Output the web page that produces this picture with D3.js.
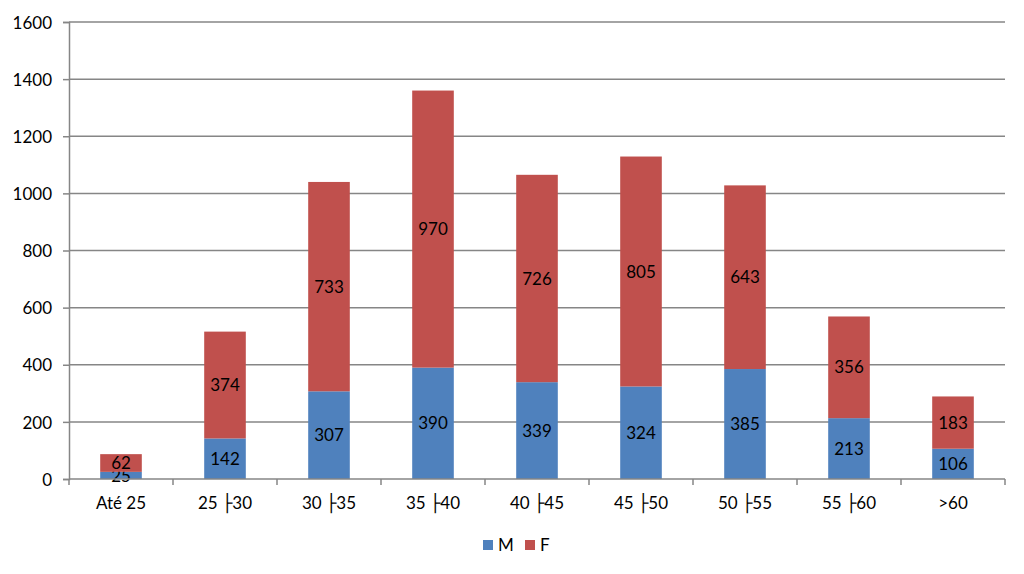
<!DOCTYPE html>
<html>
<head>
<meta charset="utf-8">
<script src="https://cdn.jsdelivr.net/npm/d3@7"></script>
<style>
  body { margin: 0; background: #fff; }
  svg text { font-family: Lato, "DejaVu Sans", sans-serif; fill: #000; }
</style>
</head>
<body>
<div id="chart"></div>
<script>
// data
let categories = ["Até 25", "25 ├30", "30 ├35", "35 ├40", "40 ├45", "45 ├50", "50 ├55", "55 ├60", ">60"]
let valuesM = [25, 142, 307, 390, 339, 324, 385, 213, 106]
let valuesF = [62, 374, 733, 970, 726, 805, 643, 356, 183]
let seriesNames = ["M", "F"]
let seriesColors = ["#4F81BD", "#C0504D"]
let yTicks = [0, 200, 400, 600, 800, 1000, 1200, 1400, 1600]

let W = 1024, H = 574
let margin = {left: 69, right: 19, top: 22, bottom: 95}
let width = W - margin.left - margin.right,
    height = H - margin.top - margin.bottom

let svg = d3.select("#chart").append("svg")
    .attr("width", W)
    .attr("height", H)

let g = svg.append("g")
    .attr("transform", `translate(${margin.left}, ${margin.top})`)

let x = d3.scaleBand()
    .domain(categories)
    .range([0, width])
    .paddingInner(0.6)
    .paddingOuter(0.3)

let y = d3.scaleLinear()
    .domain([0, 1600])
    .range([height, 0])

let gridColor = "#868686"

// gridlines + y ticks
let yAxis = g.append("g")
    .call(d3.axisLeft(y).tickValues(yTicks).tickSize(6).tickPadding(11).tickFormat(d3.format("d")))
yAxis.select(".domain").attr("stroke", gridColor).attr("stroke-width", 1.5)
yAxis.selectAll(".tick line").attr("stroke", gridColor).attr("stroke-width", 1.5)
yAxis.selectAll(".tick text").attr("font-size", "17px").attr("dy", "0.36em")

g.append("g").selectAll("line.grid")
    .data(yTicks.filter(d => d > 0))
    .enter().append("line")
    .attr("x1", 0).attr("x2", width)
    .attr("y1", d => y(d)).attr("y2", d => y(d))
    .attr("stroke", gridColor).attr("stroke-width", 1.5)

// stacked bars
let rows = categories.map((c, i) => ({cat: c, M: valuesM[i], F: valuesF[i]}))
let stack = d3.stack().keys(seriesNames)(rows)

let layers = g.selectAll("g.layer")
    .data(stack)
    .enter().append("g")
    .attr("fill", (d, i) => seriesColors[i])

layers.selectAll("rect")
    .data(d => d)
    .enter().append("rect")
    .attr("x", d => x(d.data.cat))
    .attr("width", x.bandwidth())
    .attr("y", d => y(d[1]))
    .attr("height", d => y(d[0]) - y(d[1]))

layers.selectAll("text")
    .data(d => d)
    .enter().append("text")
    .attr("x", d => x(d.data.cat) + x.bandwidth() / 2)
    .attr("y", d => (y(d[0]) + y(d[1])) / 2)
    .attr("dy", "0.36em")
    .attr("text-anchor", "middle")
    .attr("font-size", "17px")
    .text(d => d[1] - d[0])

// x axis with ticks on band boundaries
let xAxisGroup = g.append("g")
    .attr("transform", `translate(0, ${height})`)
xAxisGroup.append("line")
    .attr("x1", 0).attr("x2", width)
    .attr("stroke", gridColor).attr("stroke-width", 1.5)
xAxisGroup.selectAll("line.tk")
    .data(d3.range(categories.length + 1))
    .enter().append("line")
    .attr("x1", i => i * x.step()).attr("x2", i => i * x.step())
    .attr("y1", 0).attr("y2", 6)
    .attr("stroke", gridColor).attr("stroke-width", 1.5)
xAxisGroup.selectAll("text")
    .data(categories)
    .enter().append("text")
    .attr("x", d => x(d) + x.bandwidth() / 2)
    .attr("y", 30)
    .attr("text-anchor", "middle")
    .attr("font-size", "17px")
    .text(d => d)

// legend
let legend = svg.append("g").attr("transform", "translate(483, 540)")
let legendX = [0, 42]
seriesNames.forEach((s, i) => {
  legend.append("rect")
      .attr("x", legendX[i]).attr("y", 0)
      .attr("width", 10).attr("height", 10)
      .attr("fill", seriesColors[i])
  legend.append("text")
      .attr("x", legendX[i] + 15).attr("y", 11)
      .attr("font-size", "17px")
      .text(s)
})
</script>
</body>
</html>
